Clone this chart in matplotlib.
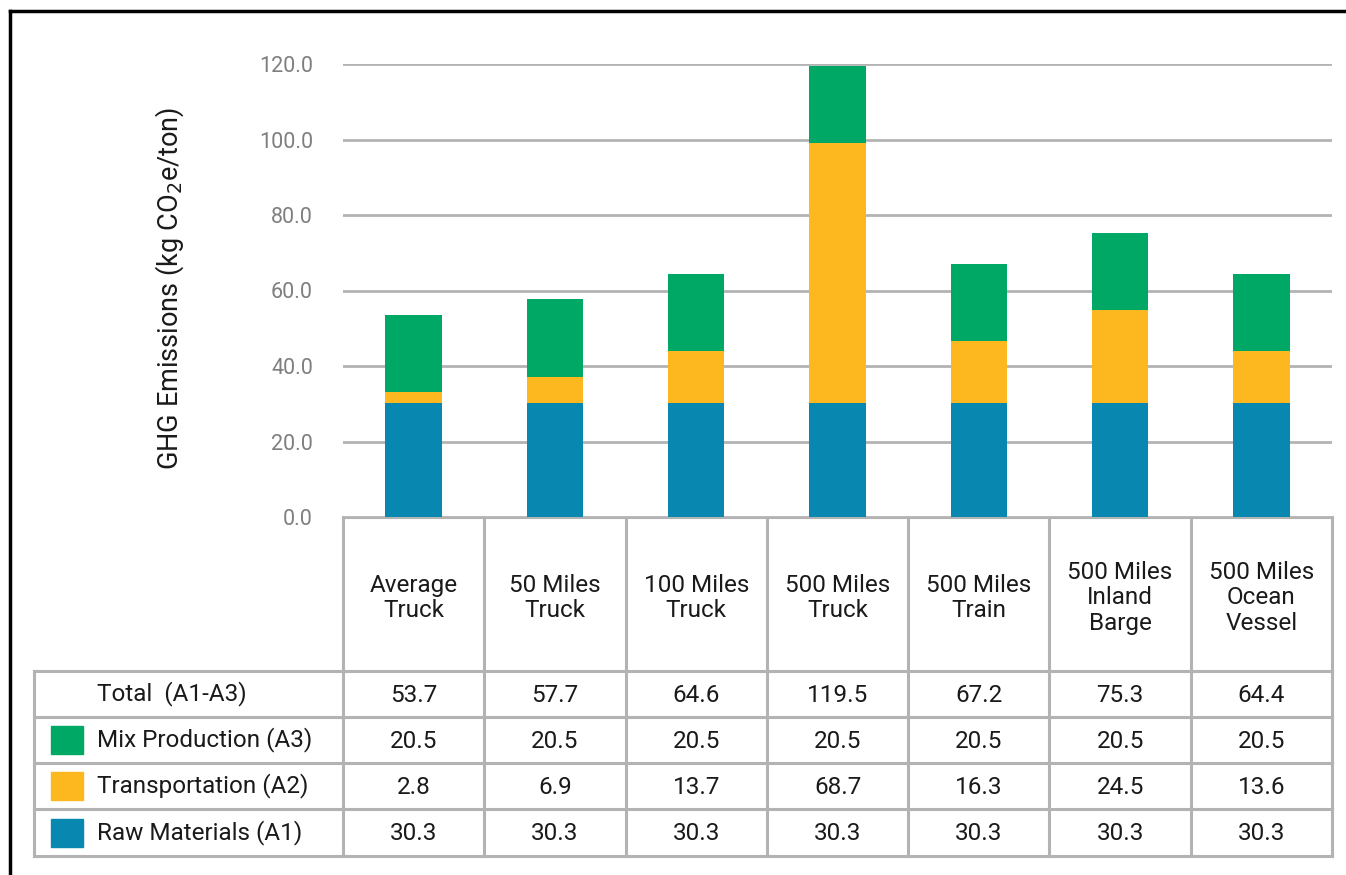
import numpy as np
import matplotlib
matplotlib.use("Agg")
import matplotlib.pyplot as plt
from matplotlib.patches import Rectangle

plt.rcParams['font.family'] = ['Roboto', 'DejaVu Sans']

# data
categories = ["Average\nTruck", "50 Miles\nTruck", "100 Miles\nTruck", "500 Miles\nTruck",
              "500 Miles\nTrain", "500 Miles\nInland\nBarge", "500 Miles\nOcean\nVessel"]
raw_materials = [30.3, 30.3, 30.3, 30.3, 30.3, 30.3, 30.3]
transportation = [2.8, 6.9, 13.7, 68.7, 16.3, 24.5, 13.6]
mix_production = [20.5, 20.5, 20.5, 20.5, 20.5, 20.5, 20.5]
totals = [53.7, 57.7, 64.6, 119.5, 67.2, 75.3, 64.4]
yticks = [0, 20, 40, 60, 80, 100, 120]

row_labels = ["Total  (A1-A3)", "Mix Production (A3)", "Transportation (A2)", "Raw Materials (A1)"]
row_values = [totals, mix_production, transportation, raw_materials]

c_blue = '#0888b0'
c_orange = '#fdb71f'
c_green = '#00a866'
row_colors = [None, c_green, c_orange, c_blue]
grid_c = '#b3b3b3'
txt_c = '#1a1a1a'
fs = 17.5

W, H = 1346, 875
fig = plt.figure(figsize=(W / 100, H / 100), dpi=100)

# overlay axes in pixel coords for table and border
ov = fig.add_axes([0, 0, 1, 1])
ov.set_xlim(0, W)
ov.set_ylim(H, 0)
ov.axis('off')

# chart axes
x0, x1 = 343, 1332
y0, y1 = 517, 64
ax = fig.add_axes([x0 / W, (H - y0) / H, (x1 - x0) / W, (y0 - y1) / H])
n = len(categories)
x = np.arange(n)
bw = 0.40
ax.bar(x, raw_materials, bw, color=c_blue, zorder=3)
ax.bar(x, transportation, bw, bottom=raw_materials, color=c_orange, zorder=3)
bot2 = np.array(raw_materials) + np.array(transportation)
ax.bar(x, mix_production, bw, bottom=bot2, color=c_green, zorder=3)
ax.set_xlim(-0.5, n - 0.5)
ax.set_ylim(0, 120)
ax.set_yticks(yticks)
ax.set_yticklabels([f"{v:.1f}" for v in yticks], color='#7f7f7f', fontsize=15.5)
ax.tick_params(axis='y', length=0, pad=21.6)
ax.set_xticks([])
ax.grid(axis='y', color=grid_c, linewidth=2, zorder=0)
for s in ax.spines.values():
    s.set_visible(False)
ov.text(170, 288, "GHG Emissions (kg CO$_2$e/ton)", rotation=90, ha='center', va='center',
        fontsize=19.5, color=txt_c)

# table
col_edges = np.linspace(x0, x1, n + 1)
lx = 34
row_edges = [671, 717, 763, 809, 856]
lw = 2.2
ov.plot([x0, x1], [y0, y0], color=grid_c, lw=lw)
for ce in col_edges:
    ov.plot([ce, ce], [y0, row_edges[-1]], color=grid_c, lw=lw)
ov.plot([lx, lx], [row_edges[0], row_edges[-1]], color=grid_c, lw=lw)
for re in row_edges:
    ov.plot([lx, x1], [re, re], color=grid_c, lw=lw)

centers = (col_edges[:-1] + col_edges[1:]) / 2
for cx, lab in zip(centers, categories):
    ov.text(cx, 598, lab, ha='center', va='center', fontsize=fs, color=txt_c,
            linespacing=1.15)

for r, (lab, vals, col) in enumerate(zip(row_labels, row_values, row_colors)):
    cy = (row_edges[r] + row_edges[r + 1]) / 2
    ov.text(97, cy, lab, ha='left', va='center', fontsize=fs, color=txt_c)
    if col is not None:
        ov.add_patch(Rectangle((51, cy - 14), 32, 28, color=col))
    for cx, v in zip(centers, vals):
        ov.text(cx, cy + 1, f"{v:.1f}", ha='center', va='center', fontsize=fs, color=txt_c)

# outer border (top and left visible)
ov.plot([10, W], [11, 11], color='black', lw=2.5)
ov.plot([10, 10], [11, H], color='black', lw=2.5)

fig.savefig("out.png", dpi=100)
